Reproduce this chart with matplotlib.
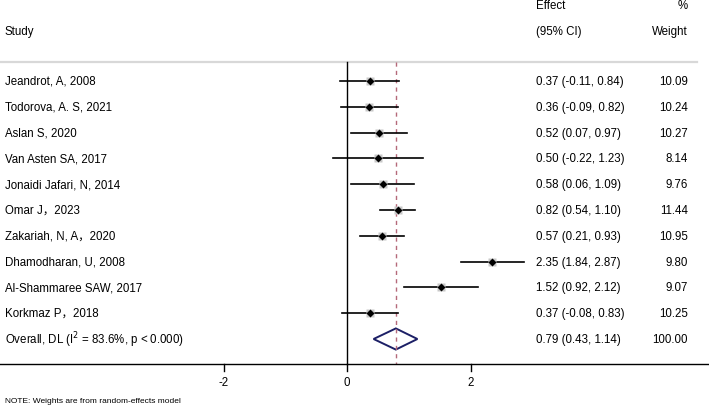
import matplotlib
matplotlib.use("Agg")
import matplotlib.pyplot as plt
import numpy as np

plt.rcParams['font.family'] = ['Liberation Sans', 'Noto Sans CJK SC', 'DejaVu Sans']

# data
studies = ["Jeandrot, A, 2008", "Todorova, A. S, 2021", "Aslan S, 2020",
           "Van Asten SA, 2017", "Jonaidi Jafari, N, 2014", "Omar J\uff0c2023",
           "Zakariah, N, A\uff0c2020", "Dhamodharan, U, 2008", "Al-Shammaree SAW, 2017",
           "Korkmaz P\uff0c2018"]
effect = [0.37, 0.36, 0.52, 0.50, 0.58, 0.82, 0.57, 2.35, 1.52, 0.37]
lower = [-0.11, -0.09, 0.07, -0.22, 0.06, 0.54, 0.21, 1.84, 0.92, -0.08]
upper = [0.84, 0.82, 0.97, 1.23, 1.09, 1.10, 0.93, 2.87, 2.12, 0.83]
weight = [10.09, 10.24, 10.27, 8.14, 9.76, 11.44, 10.95, 9.80, 9.07, 10.25]
overall = 0.79
overall_lo = 0.43
overall_hi = 1.14
overall_label = "Overall, DL (I$^{2}$ = 83.6%, p < 0.000)"
xticks = [-2, 0, 2]

fig = plt.figure(figsize=(7.09, 4.06), dpi=100)
ax = fig.add_axes([0, 0, 1, 1])
ax.set_xlim(-5.62, 5.862)
ax.set_ylim(12.558, -3.178)
ax.axis('off')

n = len(studies)
rows = np.arange(n)
fs = 8.3

# header (x in axes fraction, y in row units)
tr = ax.get_yaxis_transform()
ax.text(0.007, -1.94, "Study", transform=tr, fontsize=fs, va='center')
ax.text(0.756, -2.95, "Effect", transform=tr, fontsize=fs, va='center')
ax.text(0.756, -1.94, "(95% CI)", transform=tr, fontsize=fs, va='center')
ax.text(0.970, -2.95, "%", transform=tr, fontsize=fs, va='center', ha='right')
ax.text(0.970, -1.94, "Weight", transform=tr, fontsize=fs, va='center', ha='right')
ax.plot([0, 0.983], [-0.74, -0.74], transform=tr, color='#d8d8d8', lw=1.6)

# null line and overall dashed line
ax.plot([0, 0], [-0.74, 10.97], color='black', lw=1)
ax.plot([overall, overall], [-0.74, 10.97], color='#b5697a', lw=1, dashes=(3, 3))

# studies
for i in rows:
    ax.plot([lower[i], upper[i]], [i, i], color='black', lw=1.2)
    ax.plot(effect[i], i, marker='s', ms=1.8 * np.sqrt(weight[i]),
            color='#c8c8c8', mec='none')
    ax.plot(effect[i], i, marker='D', ms=3.6, color='black', mec='none')
    ax.text(0.007, i, studies[i], transform=tr, fontsize=fs, va='center')
    ax.text(0.756, i, "%.2f (%.2f, %.2f)" % (effect[i], lower[i], upper[i]),
            transform=tr, fontsize=fs, va='center')
    ax.text(0.970, i, "%.2f" % weight[i], transform=tr, fontsize=fs,
            va='center', ha='right')

# overall diamond
yo = n
ax.fill([overall_lo, overall, overall_hi, overall],
        [yo, yo - 0.41, yo, yo + 0.41], facecolor='none',
        edgecolor='#1c1f66', lw=1.4)
ax.text(0.007, yo, overall_label, transform=tr, fontsize=fs, va='center')
ax.text(0.756, yo, "%.2f (%.2f, %.2f)" % (overall, overall_lo, overall_hi),
        transform=tr, fontsize=fs, va='center')
ax.text(0.970, yo, "100.00", transform=tr, fontsize=fs, va='center', ha='right')

# x axis
ax.plot([0, 1], [10.97, 10.97], transform=tr, color='black', lw=1)
for t in xticks:
    ax.plot([t, t], [10.97, 11.25], color='black', lw=1)
    ax.text(t, 11.67, str(t), fontsize=fs, ha='center', va='center')

ax.text(0.007, 12.4, "NOTE: Weights are from random-effects model",
        transform=tr, fontsize=6, va='center')

fig.savefig("out.png", dpi=100)
